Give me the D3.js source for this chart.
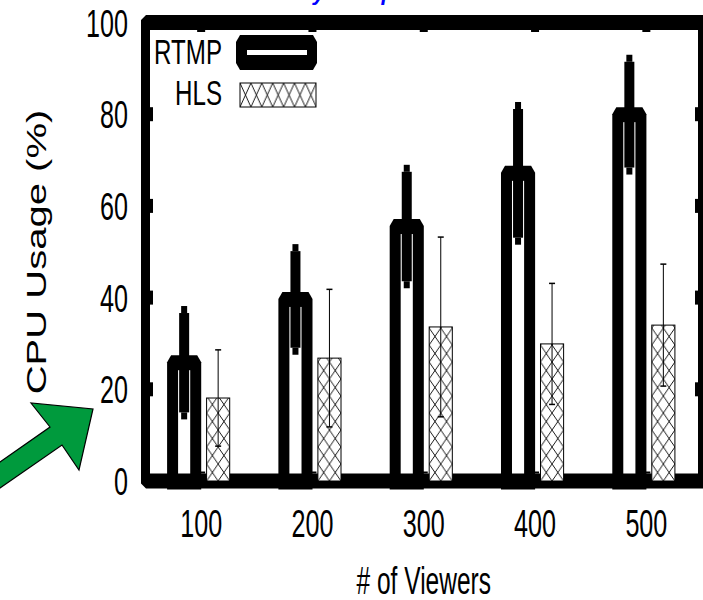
<!DOCTYPE html>
<html>
<head>
<meta charset="utf-8">
<script src="https://cdn.jsdelivr.net/npm/d3@7"></script>
<style>
	body { margin: 0; background: #fff; }
	svg { display: block; }
</style>
</head>
<body>
<div id="chart-container"></div>
<script>
const width = 703;
const height = 600;

const viewers = ["100", "200", "300", "400", "500"];
const series = ["RTMP", "HLS"];
const rtmpMean = [25.8, 39.6, 55.5, 67.1, 79.9];
const rtmpErr = [11.6, 11.3, 12.7, 14.8, 12.3];
const hlsMean = [18.1, 26.8, 33.6, 29.9, 34.0];
const hlsErr = [10.5, 15.0, 19.6, 13.2, 13.3];
const yTicks = [0, 20, 40, 60, 80, 100];

const font = "'Liberation Sans', Arial, sans-serif";
const squeeze = 0.645; // the figure is narrowed horizontally

const svg = d3
	.select("#chart-container")
	.append("svg")
	.attr("width", width)
	.attr("height", height);

const x = d3.scaleBand().domain(viewers).range([145.5, 702]);
const xSeries = d3.scaleBand().domain(series).range([-34, 34]);
const y = d3.scaleLinear().domain([0, 100]).range([481, 22.5]);

const barW = xSeries.bandwidth() * 0.68;
const sw = 5.5; // half of vertical stroke
const sh = 7.5; // half of horizontal stroke
const cx = (v, s) => x(v) + x.bandwidth() / 2 + xSeries(s) + xSeries.bandwidth() / 2;

// hatch patterns, one per HLS bar so the diamonds line up with the bar edge
const defs = svg.append("defs");
viewers.forEach((v, i) => {
	const p = defs
		.append("pattern")
		.attr("id", `hatch-${i}`)
		.attr("patternUnits", "userSpaceOnUse")
		.attr("x", cx(v, "HLS") - barW / 2)
		.attr("y", y(0))
		.attr("width", barW / 2)
		.attr("height", 17);
	p.append("rect").attr("width", barW / 2).attr("height", 17).attr("fill", "#fff");
	p.append("path")
		.attr("d", `M0,0L${barW / 2},17M${barW / 2},0L0,17`)
		.attr("stroke", "#000")
		.attr("stroke-width", 0.9);
});
const lp = defs
	.append("pattern")
	.attr("id", "hatch-legend")
	.attr("patternUnits", "userSpaceOnUse")
	.attr("x", 240)
	.attr("y", 83)
	.attr("width", 10.9)
	.attr("height", 24);
lp.append("rect").attr("width", 10.9).attr("height", 24).attr("fill", "#fff");
lp.append("path")
	.attr("d", "M0,0L10.9,24M10.9,0L0,24")
	.attr("stroke", "#000")
	.attr("stroke-width", 0.9);

// blue title, cut off at the top of the picture
svg.append("text")
	.attr("x", 280)
	.attr("y", 0)
	.style("font-family", font)
	.style("font-size", "22px")
	.style("font-weight", "bold")
	.style("font-style", "italic")
	.style("fill", "#0000ff")
	.text("Playback problem");

// frame (drawn first, the bars sit on top of the bottom border)
const fl = x.range()[0] - 4.5;
const fr = x.range()[1] + 6;
const ft = y(100) - sh;
const fb = y(0) + sh;
const il = x.range()[0] + 4.5;
const ir = x.range()[1] - 4;
svg.append("path")
	.attr("fill-rule", "evenodd")
	.attr("fill", "#000")
	.attr(
		"d",
		`M${fl + 5},${ft}L${fr},${ft}L${fr},${fb}L${fl + 5},${fb}L${fl},${fb - 5}L${fl},${ft + 5}Z` +
			`M${il},${ft + 15}L${ir},${ft + 15}L${ir},${fb - 15}L${il},${fb - 15}Z`
	);

// tick marks
const ticks = svg.append("g").attr("fill", "#000");
viewers.forEach((v) => {
	const c = x(v) + x.bandwidth() / 2;
	ticks.append("rect").attr("x", c - 4).attr("y", ft + 15).attr("width", 8).attr("height", 2);
	ticks.append("rect").attr("x", c - 4).attr("y", fb - 17).attr("width", 8).attr("height", 2);
});
yTicks.slice(1, -1).forEach((t) => {
	ticks.append("rect").attr("x", il).attr("y", y(t) - 7).attr("width", 3).attr("height", 14);
	ticks.append("rect").attr("x", ir - 3).attr("y", y(t) - 7).attr("width", 3).attr("height", 14);
});

// RTMP bars: thick outlined boxes, the bottom edge lies on the baseline
const rtmpPath = (v, m) => {
	const l = cx(v, "RTMP") - barW / 2 - sw;
	const r = cx(v, "RTMP") + barW / 2 + sw;
	const t = y(m) - sh;
	const b = y(0) + sh + 1;
	return `M${l},${b}L${l},${t + 7}L${l + 4},${t}L${r - 4},${t}L${r},${t + 7}L${r},${b}Z`;
};

svg.append("g")
	.selectAll("path")
	.data(rtmpMean)
	.join("path")
	.attr("d", (d, i) => rtmpPath(viewers[i], d))
	.attr("fill", "#000");

svg.append("g")
	.selectAll("rect")
	.data(rtmpMean)
	.join("rect")
	.attr("x", (d, i) => cx(viewers[i], "RTMP") - barW / 2 + sw)
	.attr("y", (d) => y(d) + sh)
	.attr("width", barW - 2 * sw)
	.attr("height", (d) => y(0) - y(d) - 2 * sh)
	.attr("fill", "#fff");

// RTMP error bars (thick)
const rtmpEb = svg.append("g");
rtmpMean.forEach((m, i) => {
	const c = cx(viewers[i], "RTMP");
	const hi = y(m + rtmpErr[i]);
	const lo = y(m - rtmpErr[i]);
	rtmpEb.append("rect").attr("x", c - 5).attr("y", hi + 3.5).attr("width", 10).attr("height", lo - hi - 7).attr("fill", "#000");
	rtmpEb.append("rect").attr("x", c - 3).attr("y", hi - 3.5).attr("width", 6).attr("height", 7).attr("fill", "#000");
	rtmpEb.append("rect").attr("x", c - 3).attr("y", lo - 3.5).attr("width", 6).attr("height", 7).attr("fill", "#000");
});

// HLS bars: hatched, reaching down into the bottom border
svg.append("g")
	.selectAll("rect")
	.data(hlsMean)
	.join("rect")
	.attr("x", (d, i) => cx(viewers[i], "HLS") - barW / 2)
	.attr("y", (d) => y(d))
	.attr("width", barW)
	.attr("height", (d) => y(0) - y(d))
	.attr("fill", (d, i) => `url(#hatch-${i})`)
	.attr("stroke", "#000")
	.attr("stroke-width", 1);

// HLS error bars (thin)
const hlsEb = svg.append("g").attr("stroke", "#000");
hlsMean.forEach((m, i) => {
	const c = cx(viewers[i], "HLS");
	const hi = y(m + hlsErr[i]);
	const lo = y(m - hlsErr[i]);
	hlsEb.append("line").attr("x1", c).attr("x2", c).attr("y1", hi).attr("y2", lo).attr("stroke-width", 1);
	hlsEb.append("line").attr("x1", c - 3).attr("x2", c + 3).attr("y1", hi).attr("y2", hi).attr("stroke-width", 1.5);
	hlsEb.append("line").attr("x1", c - 3).attr("x2", c + 3).attr("y1", lo).attr("y2", lo).attr("stroke-width", 1.5);
});

// tick labels
svg.append("g")
	.selectAll("text")
	.data(yTicks)
	.join("text")
	.attr("transform", (d) => `translate(128,${y(d) + 14}) scale(${squeeze},1)`)
	.style("font-family", font)
	.style("font-size", "39px")
	.style("text-anchor", "end")
	.text((d) => d);

svg.append("g")
	.selectAll("text")
	.data(viewers)
	.join("text")
	.attr("transform", (d) => `translate(${x(d) + x.bandwidth() / 2},537) scale(${squeeze},1)`)
	.style("font-family", font)
	.style("font-size", "39px")
	.style("text-anchor", "middle")
	.text((d) => d);

// axis titles
svg.append("text")
	.attr("transform", `translate(${(x.range()[0] + x.range()[1]) / 2},594) scale(${squeeze},1)`)
	.style("font-family", font)
	.style("font-size", "38px")
	.style("text-anchor", "middle")
	.text("# of Viewers");

svg.append("text")
	.attr("transform", "translate(46,252) rotate(-90) scale(1.43,1)")
	.style("font-family", font)
	.style("font-size", "28px")
	.style("text-anchor", "middle")
	.text("CPU Usage (%)");

// legend
const legend = svg.append("g");
legend.append("text")
	.attr("transform", "translate(222,64) scale(0.69,1)")
	.style("font-family", font)
	.style("font-size", "35px")
	.style("text-anchor", "end")
	.text(series[0]);
legend.append("text")
	.attr("transform", "translate(222,105) scale(0.69,1)")
	.style("font-family", font)
	.style("font-size", "35px")
	.style("text-anchor", "end")
	.text(series[1]);
legend.append("path")
	.attr("d", "M236,42L240,35L313,35L317,42L317,63L313,70L240,70L236,63Z")
	.attr("fill", "#000");
legend.append("rect")
	.attr("x", 247)
	.attr("y", 50)
	.attr("width", 60)
	.attr("height", 5)
	.attr("fill", "#fff");
legend.append("rect")
	.attr("x", 240)
	.attr("y", 83)
	.attr("width", 76)
	.attr("height", 24)
	.attr("fill", "url(#hatch-legend)")
	.attr("stroke", "#000")
	.attr("stroke-width", 1);

// green arrow pointing at the y axis
svg.append("path")
	.attr("d", "M-20,476L50,427L31,403L93,409L79,470L62,445L-20,502Z")
	.attr("fill", "#009a3d")
	.attr("stroke", "#000")
	.attr("stroke-width", 1.2)
	.attr("stroke-linejoin", "miter");
</script>
</body>
</html>
